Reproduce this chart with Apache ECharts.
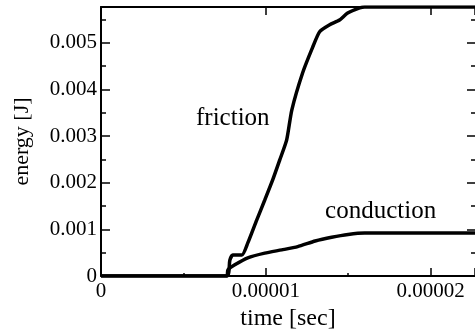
<!DOCTYPE html>
<html>
<head>
<meta charset="utf-8">
<script src="https://cdn.jsdelivr.net/npm/echarts@6/dist/echarts.min.js"></script>
<style>
  html, body { margin: 0; padding: 0; background: #fff; }
  #chart { width: 475px; height: 332px; }
</style>
</head>
<body>
<div id="chart"></div>
<script>
// time in seconds, energy in joules
const frictionTime = [0, 0.764e-5, 0.782e-5, 0.800e-5, 0.855e-5, 0.891e-5, 0.945e-5, 0.994e-5,
  1.042e-5, 1.085e-5, 1.127e-5, 1.158e-5, 1.224e-5, 1.285e-5, 1.327e-5, 1.388e-5,
  1.448e-5, 1.497e-5, 1.570e-5, 1.600e-5, 2.27e-5];
const frictionEnergy = [0, 0, 0.00034, 0.00045, 0.00045, 0.00071, 0.00120, 0.00163,
  0.00206, 0.00249, 0.00292, 0.00356, 0.00436, 0.00491, 0.00524, 0.00539,
  0.00549, 0.00564, 0.00575, 0.00577, 0.00577];

const conductionTime = [0, 0.764e-5, 0.770e-5, 0.812e-5, 0.891e-5, 0.994e-5, 1.097e-5,
  1.194e-5, 1.300e-5, 1.400e-5, 1.500e-5, 1.600e-5, 2.27e-5];
const conductionEnergy = [0, 0, 0.00013, 0.00024, 0.00039, 0.00049, 0.00056,
  0.00063, 0.00075, 0.00083, 0.00089, 0.00092, 0.00092];

const curveLabels = [
  { name: 'friction', coord: [0.80e-5, 0.00339] },
  { name: 'conduction', coord: [1.697e-5, 0.00139] }
];

const font = 'Liberation Serif';

function pairs(xs, ys) {
  return xs.map((x, i) => [x, ys[i]]);
}

function textMark(item) {
  return {
    symbol: 'circle', symbolSize: 1,
    itemStyle: { color: 'rgba(0,0,0,0)' },
    label: { show: true, position: 'inside', formatter: '{b}', fontFamily: font, fontSize: 25, color: '#000' },
    data: [{ name: item.name, coord: item.coord }]
  };
}

const chart = echarts.init(document.getElementById('chart'));

const tickStyle = { color: '#000', width: 1.5 };

const option = {
  animation: false,
  grid: { left: 101, top: 7, right: 0, bottom: 56, outerBoundsMode: 'none', containLabel: false },
  xAxis: [
    {
      type: 'value',
      min: 0, max: 2.27e-5, interval: 1e-5,
      name: 'time [sec]', nameLocation: 'middle', nameGap: 27,
      nameTextStyle: { fontFamily: font, fontSize: 24, color: '#000' },
      axisLine: { show: true, onZero: false, lineStyle: { color: '#000', width: 2 } },
      axisTick: { show: true, inside: true, length: 8, lineStyle: tickStyle },
      minorTick: { show: true, splitNumber: 2, length: 3, lineStyle: tickStyle },
      splitLine: { show: false },
      axisLabel: {
        fontFamily: font, fontSize: 21, color: '#000', margin: 5,
        formatter: v => v === 0 ? '0' : v.toFixed(5),
        showMaxLabel: false
      }
    },
    {
      type: 'value', position: 'top',
      min: 0, max: 2.27e-5, interval: 1e-5,
      axisLine: { show: true, onZero: false, lineStyle: { color: '#000', width: 2 } },
      axisTick: { show: true, inside: true, length: 8, lineStyle: tickStyle },
      axisLabel: { show: false },
      splitLine: { show: false }
    }
  ],
  yAxis: [
    {
      type: 'value',
      min: 0, max: 0.00577, interval: 0.001,
      name: 'energy [J]', nameLocation: 'middle', nameGap: 68,
      nameTextStyle: { fontFamily: font, fontSize: 22, color: '#000' },
      axisLine: { show: true, onZero: false, lineStyle: { color: '#000', width: 2 } },
      axisTick: { show: true, inside: true, length: 9, lineStyle: tickStyle },
      minorTick: { show: true, splitNumber: 2, length: 5, lineStyle: tickStyle },
      splitLine: { show: false },
      axisLabel: {
        fontFamily: font, fontSize: 21, color: '#000', margin: 4,
        formatter: v => v === 0 ? '0' : v.toFixed(3),
        showMaxLabel: false
      }
    },
    {
      type: 'value', position: 'right',
      min: 0, max: 0.00577, interval: 0.001,
      axisLine: { show: false, onZero: false },
      axisTick: { show: true, inside: true, length: 8, lineStyle: tickStyle },
      minorTick: { show: true, splitNumber: 2, length: 4, lineStyle: tickStyle },
      axisLabel: { show: false },
      splitLine: { show: false }
    }
  ],
  series: [
    {
      name: 'friction', type: 'line', showSymbol: false, smooth: 0.2,
      data: pairs(frictionTime, frictionEnergy),
      lineStyle: { color: '#000', width: 3.5 },
      markPoint: textMark(curveLabels[0])
    },
    {
      name: 'conduction', type: 'line', showSymbol: false, smooth: 0.2,
      data: pairs(conductionTime, conductionEnergy),
      lineStyle: { color: '#000', width: 3.5 },
      markPoint: textMark(curveLabels[1])
    }
  ]
};

chart.setOption(option);
</script>
</body>
</html>
